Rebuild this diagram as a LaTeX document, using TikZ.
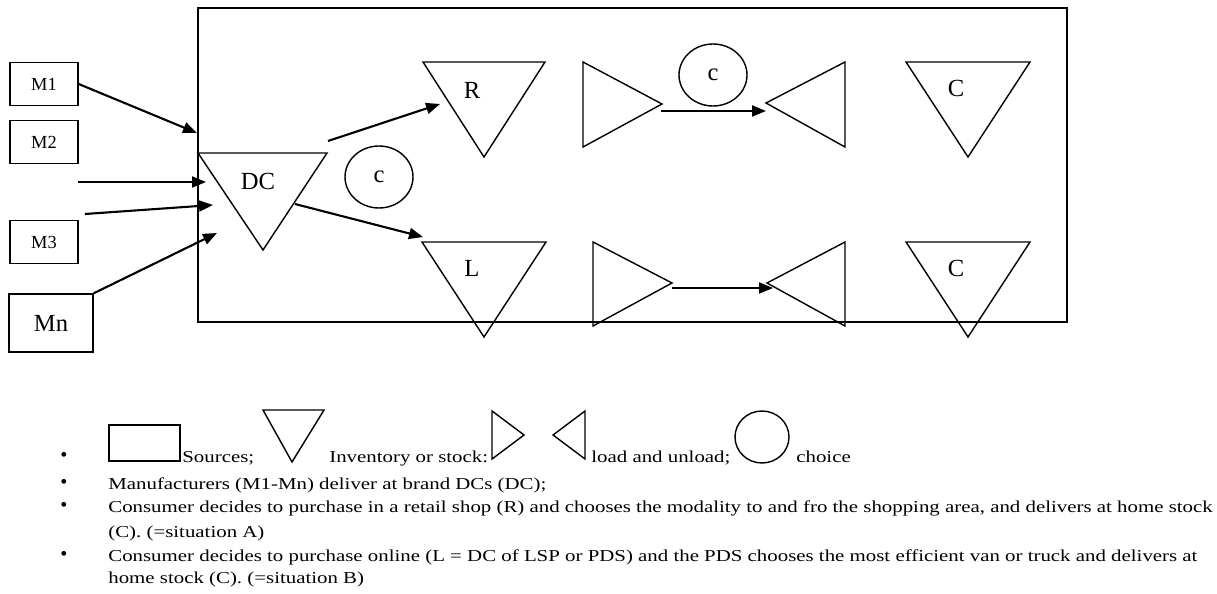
\documentclass[tikz,border=0pt]{standalone}
\usepackage{fontspec}
\setmainfont{Liberation Serif}
\newfontfamily\legendfont{Liberation Serif}[FakeStretch=1.25]
\usetikzlibrary{arrows.meta,shapes.geometric}

\tikzset{
  src/.style={draw,line width=0.8pt,minimum width=1.36cm,minimum height=0.86cm,inner sep=0pt,font=\fontsize{10.5}{12}\selectfont},
  stock/.style={draw,line width=0.8pt,line join=miter},
  choice/.style={draw,ellipse,line width=0.8pt,minimum width=1.36cm,minimum height=1.24cm,inner sep=0pt,font=\fontsize{14}{16}\selectfont},
  flow/.style={line width=1.2pt,-{Triangle[length=0.28cm,width=0.22cm]}},
  lbl/.style={inner sep=0pt,font=\fontsize{14}{16}\selectfont},
  legend/.style={anchor=base west,inner sep=0pt,font=\legendfont\fontsize{9.5}{11}\selectfont},
  bullet/.style={anchor=base,inner sep=0pt,font=\fontsize{11.5}{12}\selectfont},
}

\begin{document}
\begin{tikzpicture}[x=0.02cm,y=-0.02cm]
\useasboundingbox (0,0) rectangle (1217,594);
% frame
\draw[line width=0.8pt] (198,8) rectangle (1067,322);

% manufacturers
\node[src] (M1) at (44,84) {M1};
\node[src] (M2) at (44,142) {M2};
\node[src] (M3) at (44,242) {M3};
\node[src,minimum width=1.68cm,minimum height=1.16cm,font=\fontsize{14}{16}\selectfont] (Mn) at (51,323) {Mn};

% stocks
\draw[stock] (198,153) -- (327,153) -- (263,250) -- cycle;
\node[lbl] (DC) at (258,181) {DC};
\draw[stock] (423,62) -- (545,62) -- (484,157) -- cycle;
\node[lbl] (R) at (472,90) {R};
\draw[stock] (422,242) -- (546,242) -- (484,337) -- cycle;
\node[lbl] (L) at (472,268) {L};
\draw[stock] (906,62) -- (1030,62) -- (968,157) -- cycle;
\node[lbl] (C1) at (956,88) {C};
\draw[stock] (906,242) -- (1030,242) -- (968,337) -- cycle;
\node[lbl] (C2) at (956,268) {C};

% load and unload
\draw[stock] (583,62) -- (583,147) -- (662,104) -- cycle;
\draw[stock] (845,62) -- (845,147) -- (766,103) -- cycle;
\draw[stock] (593,242) -- (593,326) -- (672,283) -- cycle;
\draw[stock] (845,242) -- (845,326) -- (767,283) -- cycle;

% choices
\node[choice] (c1) at (379,177) {c};
\node[choice] (c2) at (713,75) {c};

% flows
\coordinate (in1) at (197,133);
\coordinate (s2) at (78,182);
\coordinate (in2) at (206,182);
\coordinate (s3) at (85,214);
\coordinate (in3) at (213,205);
\coordinate (inn) at (217,233);
\coordinate (dcr) at (328,141);
\coordinate (rin) at (440,104);
\coordinate (dcl) at (295,204);
\coordinate (lin) at (423,237);
\coordinate (ld1) at (661,111);
\coordinate (ul1) at (766,111);
\coordinate (ld2) at (672,288);
\coordinate (ul2) at (773,288);
\draw[flow] (M1.east) -- (in1);
\draw[flow] (s2) -- (in2);
\draw[flow] (s3) -- (in3);
\draw[flow] (Mn.north east) -- (inn);
\draw[flow] (dcr) -- (rin);
\draw[flow] (dcl) -- (lin);
\draw[flow] (ld1) -- (ul1);
\draw[flow] (ld2) -- (ul2);

% legend
\foreach \y in {461,488,511,560}
  \node[bullet] at (64,\y) {\textbullet};
\draw[line width=0.8pt] (109,425) rectangle (180,461);
\node[legend] (t1) at (182,462) {Sources;};
\draw[stock] (263,410) -- (324,410) -- (292,462) -- cycle;
\node[legend] (t2) at (329,462) {Inventory or stock:};
\draw[stock] (492,411) -- (492,459) -- (524,435) -- cycle;
\draw[stock] (585,411) -- (585,459) -- (553,435) -- cycle;
\node[legend] (t3) at (591,462) {load and unload;};
\draw[line width=0.8pt] (762,437) ellipse (27 and 26);
\node[legend] (t4) at (796,462) {choice};
\node[legend] (t5) at (108,489) {Manufacturers (M1-Mn) deliver at brand DCs (DC);};
\node[legend] (t6) at (108,512) {Consumer decides to purchase in a retail shop (R) and chooses the modality to and fro the shopping area, and delivers at home stock};
\node[legend] (t7) at (108,537) {(C). (=situation A)};
\node[legend] (t8) at (108,561) {Consumer decides to purchase online (L = DC of LSP or PDS) and the PDS chooses the most efficient van or truck and delivers at};
\node[legend] (t9) at (108,583) {home stock (C). (=situation B)};
\end{tikzpicture}
\end{document}
